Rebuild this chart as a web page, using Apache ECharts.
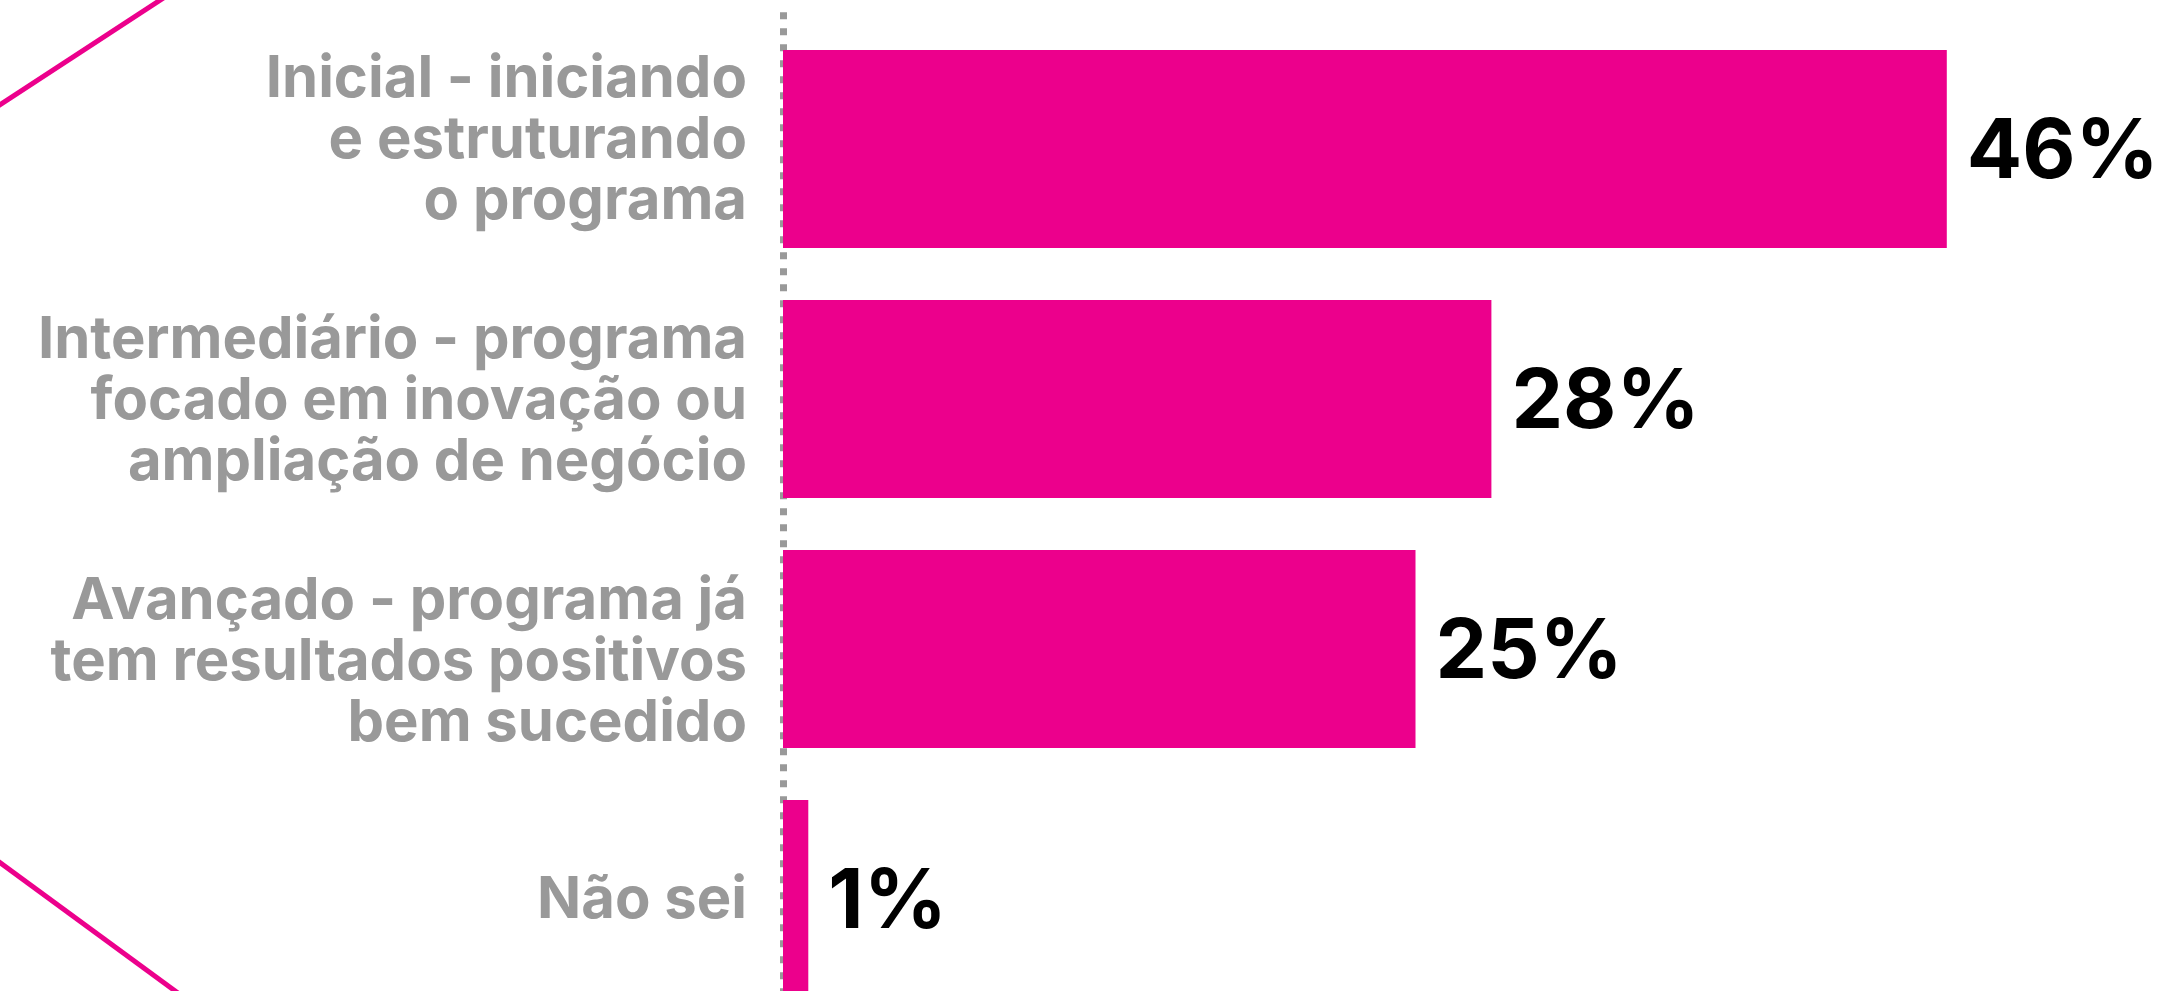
<!DOCTYPE html>
<html>
<head>
<meta charset="utf-8">
<script src="https://cdn.jsdelivr.net/npm/echarts@6/dist/echarts.min.js"></script>
<style>
html,body{margin:0;padding:0;background:#fff;}
#c{width:2162px;height:991px;}
</style>
</head>
<body>
<div id="c"></div>
<script>
const categories = [
  'Inicial - iniciando\ne estruturando\no programa',
  'Intermediário - programa\nfocado em inovação ou\nampliação de negócio',
  'Avançado - programa já\ntem resultados positivos\nbem sucedido',
  'Não sei'
];
const values = [46, 28, 25, 1];
// per-category vertical nudge of the label block (px, + = down), as in the reference layout
const labelNudge = [-8, 3, 14, 2];

const PINK = '#EC008C';
const GRAY = '#999999';

function labelFormatter(value, index) {
  const lines = String(value).split('\n').map(s => '{t|' + s + '}');
  const n = labelNudge[index] || 0;
  const gapStyle = n < 0 ? 'up' + (-2 * n) : 'dn' + (2 * n);
  if (n < 0) lines.push('{' + gapStyle + '| }');
  else if (n > 0) lines.unshift('{' + gapStyle + '| }');
  return lines.join('\n');
}

const rich = {
  t: {color: GRAY, fontFamily: 'Inter', fontWeight: 'bold', fontSize: 58, lineHeight: 61, align: 'right'}
};
labelNudge.forEach(n => {
  if (n < 0) rich['up' + (-2 * n)] = {fontSize: 1, lineHeight: -2 * n};
  else if (n > 0) rich['dn' + (2 * n)] = {fontSize: 1, lineHeight: 2 * n};
});

const chart = echarts.init(document.getElementById('c'), null, {renderer: 'canvas'});
chart.setOption({
  backgroundColor: '#ffffff',
  animation: false,
  graphic: [
    {type: 'line', shape: {x1: -5, y1: 108, x2: 168, y2: -5}, style: {stroke: PINK, lineWidth: 5}},
    {type: 'line', shape: {x1: -5, y1: 859, x2: 182, y2: 996}, style: {stroke: PINK, lineWidth: 5}}
  ],
  grid: [
    {left: 783, top: 24, bottom: -33, right: 114, containLabel: false, outerBoundsMode: 'none'},
    {left: 783, top: 12.2, bottom: -40, right: 114, containLabel: false, outerBoundsMode: 'none'}
  ],
  xAxis: [
    {type: 'value', min: 0, max: 50, show: false, gridIndex: 0},
    {type: 'value', min: 0, max: 1, show: false, gridIndex: 1}
  ],
  yAxis: [
    {
      type: 'category',
      gridIndex: 0,
      data: categories,
      inverse: true,
      offset: 4,
      axisTick: {show: false},
      axisLine: {show: false},
      axisLabel: {
        margin: 32,
        align: 'right',
        formatter: labelFormatter,
        rich: rich
      }
    },
    {
      type: 'value',
      gridIndex: 1,
      min: 0, max: 1,
      inverse: true,
      offset: 4,
      axisTick: {show: false},
      axisLabel: {show: false},
      splitLine: {show: false},
      axisLine: {
        show: true,
        lineStyle: {color: '#999999', width: 7, type: [7, 9], cap: 'butt'}
      }
    }
  ],
  series: [{
    type: 'bar',
    xAxisIndex: 0,
    yAxisIndex: 0,
    data: values,
    barWidth: 198,
    itemStyle: {color: PINK},
    label: {
      show: true,
      position: 'right',
      distance: 20,
      offset: [0, 4],
      formatter: '{c}%',
      color: '#000000',
      fontFamily: 'Inter',
      fontWeight: 'bold',
      fontSize: 82
    }
  }]
});
</script>
</body>
</html>
